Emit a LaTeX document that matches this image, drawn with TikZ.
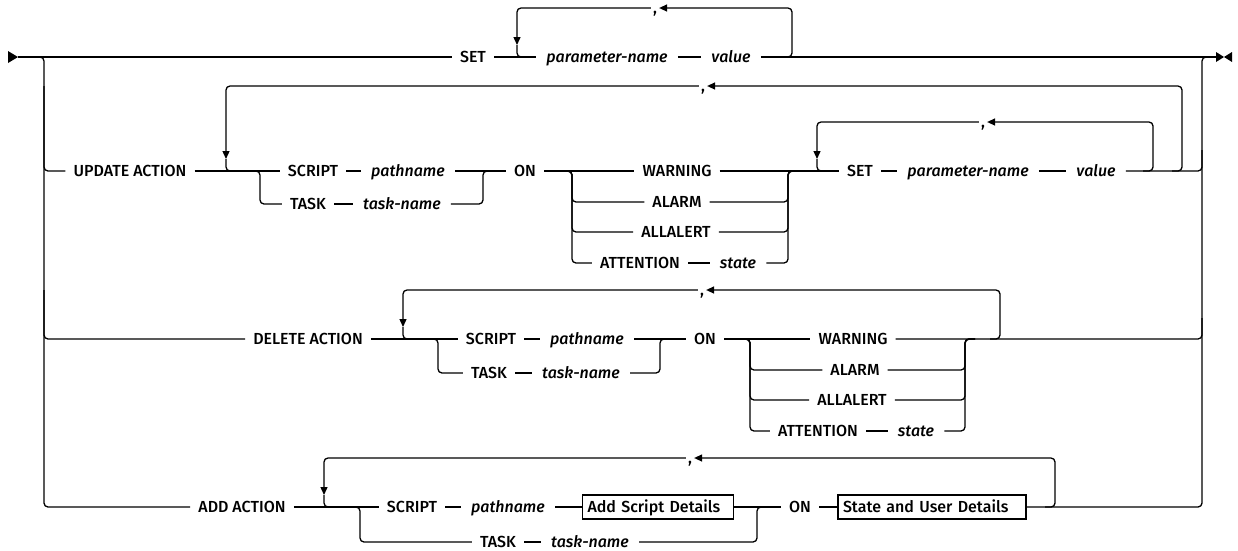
\documentclass[tikz,border=0pt]{standalone}
\usepackage{fontspec}
\usetikzlibrary{arrows.meta}
\IfFontExistsTF{Fira Sans Medium}{\newfontfamily\kwfont{Fira Sans Medium}}{\newfontfamily\kwfont{Fira Sans}}
\IfFontExistsTF{Fira Sans Medium Italic}{\newfontfamily\varfont{Fira Sans Medium Italic}}{\newfontfamily\varfont{Fira Sans}[UprightFont={* Italic}]}
\begin{document}
\begin{tikzpicture}[x=1pt,y=-1pt,
  every node/.style={font=\kwfont\fontsize{16}{18}\selectfont,text height=11pt,text depth=0pt,inner ysep=0pt},
  rail/.style={line width=1.3pt,rounded corners=4pt},
  tip/.style={-{Triangle[length=8pt,width=7pt]}},
  kw/.style={inner xsep=8pt},
  var/.style={inner xsep=10pt,font=\varfont\fontsize{16}{18}\selectfont},
  comma/.style={inner xsep=2pt,text height=0pt},
  box/.style={draw,line width=1.3pt,inner xsep=5pt,minimum height=24pt,align=left}]
  \useasboundingbox (0,0) rectangle (1238,550);
  \coordinate (begin) at (18,57);
  \coordinate (finish) at (1216,57);
  \coordinate (railL) at (44,57);
  \coordinate (railR) at (1202,57);
  \fill (8,51) -- (begin) -- (8,63) -- cycle;
  \fill (finish) ++(0,-5) -- (1224,57) -- (1216,62) -- cycle;
  \fill (1232,52) -- (1224,57) -- (1232,62) -- cycle;

  \node[kw] (set0) at (473,57) {SET};
  \node[var] (pn0) at (607,57) {parameter-name};
  \node[var] (val0) at (731,57) {value};
  \node[comma] (c0) at (655,8) {\raisebox{-5pt}{,}};
  \coordinate (l0) at (517,57);
  \coordinate (r0) at (792,57);
  \draw[rail] (begin) -- (set0.west);
  \draw[rail] (set0.east) -- (pn0.west);
  \draw[rail] (pn0.east) -- (val0.west);
  \draw[rail] (val0.east) -- (finish);
  \draw[rail,tip] ([xshift=-10pt]r0) -| (r0 |- c0) -- (c0.east);
  \draw[rail,tip] (c0.west) -| ([yshift=12pt]l0);
  \draw[rail] ([yshift=12pt]l0) |- ([xshift=10pt]l0);

  \node[kw] (upd) at (130,171) {UPDATE ACTION};
  \node[comma] (c1) at (703,86) {\raisebox{-5pt}{,}};
  \node[kw] (s1) at (313,171) {SCRIPT};
  \node[var] (p1) at (408,171) {pathname};
  \node[kw] (t1) at (308,204) {TASK};
  \node[var] (tn1) at (402,204) {task-name};
  \node[kw] (on1) at (525,171) {ON};
  \node[kw] (w1) at (677,171) {WARNING};
  \node[kw] (a1) at (677,202) {ALARM};
  \node[kw] (aa1) at (676,232) {ALLALERT};
  \node[kw] (at1) at (640,263) {ATTENTION};
  \node[var] (st1) at (738,263) {state};
  \node[comma] (c2) at (983,122) {\raisebox{-5pt}{,}};
  \node[kw] (set1) at (860,171) {SET};
  \node[var] (pn1) at (968,171) {parameter-name};
  \node[var] (val1) at (1096,171) {value};
  \coordinate (l1) at (226,171);
  \coordinate (f1) at (260,171);
  \coordinate (j1) at (483,171);
  \coordinate (f2) at (572,171);
  \coordinate (j2) at (788,171);
  \coordinate (l2) at (817,171);
  \coordinate (r2) at (1153,171);
  \coordinate (r1) at (1182,171);
  \coordinate (rr1) at (1202,150);
  \draw[rail] (railL |- c1) |- (upd.west);
  \draw[rail] (upd.east) -- (s1.west);
  \draw[rail] ([xshift=-10pt]f1) -| (f1 |- t1) -- (t1.west);
  \draw[rail] (s1.east) -- (p1.west);
  \draw[rail] (t1.east) -- (tn1.west);
  \draw[rail] (p1.east) -- (on1.west);
  \draw[rail] (tn1.east) -| (j1) -- ([xshift=10pt]j1);
  \draw[rail] (on1.east) -- (w1.west);
  \foreach \n in {a1,aa1,at1}
    \draw[rail] ([xshift=-10pt]f2) -| (f2 |- \n) -- (\n.west);
  \draw[rail] (at1.east) -- (st1.west);
  \foreach \n in {a1,aa1,st1}
    \draw[rail] (\n.east) -| (j2) -- ([xshift=10pt]j2);
  \draw[rail] (w1.east) -- (set1.west);
  \draw[rail] (set1.east) -- (pn1.west);
  \draw[rail] (pn1.east) -- (val1.west);
  \draw[rail] (val1.east) -| (rr1);
  \draw[rail,tip] ([xshift=-10pt]r2) -| (r2 |- c2) -- (c2.east);
  \draw[rail,tip] (c2.west) -| ([yshift=12pt]l2);
  \draw[rail] ([yshift=12pt]l2) |- ([xshift=10pt]l2);
  \draw[rail,tip] ([xshift=-10pt]r1) -| (r1 |- c1) -- (c1.east);
  \draw[rail,tip] (c1.west) -| ([yshift=12pt]l1);
  \draw[rail] ([yshift=12pt]l1) |- ([xshift=10pt]l1);

  \node[kw] (del) at (308,339) {DELETE ACTION};
  \node[comma] (c3) at (702,290) {\raisebox{-5pt}{,}};
  \node[kw] (s3) at (491,339) {SCRIPT};
  \node[var] (p3) at (587,339) {pathname};
  \node[kw] (t3) at (489,373) {TASK};
  \node[var] (tn3) at (581,373) {task-name};
  \node[kw] (on3) at (705,339) {ON};
  \node[kw] (w3) at (853,339) {WARNING};
  \node[kw] (a3) at (855,370) {ALARM};
  \node[kw] (aa3) at (852,400) {ALLALERT};
  \node[kw] (at3) at (818,431) {ATTENTION};
  \node[var] (st3) at (916,431) {state};
  \coordinate (l3) at (403,339);
  \coordinate (f3) at (438,339);
  \coordinate (j3) at (660,339);
  \coordinate (f4) at (750,339);
  \coordinate (j4) at (965,339);
  \coordinate (r3) at (1000,339);
  \coordinate (rr3) at (1202,318);
  \draw[rail] (railL |- c3) |- (del.west);
  \draw[rail] (del.east) -- (s3.west);
  \draw[rail] ([xshift=-10pt]f3) -| (f3 |- t3) -- (t3.west);
  \draw[rail] (s3.east) -- (p3.west);
  \draw[rail] (t3.east) -- (tn3.west);
  \draw[rail] (p3.east) -- (on3.west);
  \draw[rail] (tn3.east) -| (j3) -- ([xshift=10pt]j3);
  \draw[rail] (on3.east) -- (w3.west);
  \foreach \n in {a3,aa3,at3}
    \draw[rail] ([xshift=-10pt]f4) -| (f4 |- \n) -- (\n.west);
  \draw[rail] (at3.east) -- (st3.west);
  \foreach \n in {a3,aa3,st3}
    \draw[rail] (\n.east) -| (j4) -- ([xshift=10pt]j4);
  \draw[rail] (w3.east) -| (rr3);
  \draw[rail,tip] ([xshift=-10pt]r3) -| (r3 |- c3) -- (c3.east);
  \draw[rail,tip] (c3.west) -| ([yshift=12pt]l3);
  \draw[rail] ([yshift=12pt]l3) |- ([xshift=10pt]l3);

  \node[kw] (add) at (242,507) {ADD ACTION};
  \node[comma] (c5) at (690,458) {\raisebox{-5pt}{,}};
  \node[kw] (s5) at (412,507) {SCRIPT};
  \node[var] (p5) at (508,507) {pathname};
  \node[box,text width=141pt] (b1) at (658,507) {Add Script Details};
  \node[kw] (t5) at (498,542) {TASK};
  \node[var] (tn5) at (590,542) {task-name};
  \node[kw] (on5) at (800,507) {ON};
  \node[box,text width=178pt] (b2) at (932,507) {State and User Details};
  \coordinate (l5) at (324,507);
  \coordinate (f5) at (360,507);
  \coordinate (j5) at (757,507);
  \coordinate (r5) at (1055,507);
  \draw[rail] (add.east) -- (s5.west);
  \draw[rail] ([xshift=-10pt]f5) -| (f5 |- t5) -- (t5.west);
  \draw[rail] (s5.east) -- (p5.west);
  \draw[rail] (p5.east) -- (b1.west);
  \draw[rail] (t5.east) -- (tn5.west);
  \draw[rail] (tn5.east) -| (j5) -- ([xshift=10pt]j5);
  \draw[rail] (b1.east) -- (on5.west);
  \draw[rail] (on5.east) -- (b2.west);
  \draw[rail,tip] ([xshift=-10pt]r5) -| (r5 |- c5) -- (c5.east);
  \draw[rail,tip] (c5.west) -| ([yshift=12pt]l5);
  \draw[rail] ([yshift=12pt]l5) |- ([xshift=10pt]l5);

  \draw[rail] ([xshift=-8pt]railL) -| (railL |- add) -- (add.west);
  \draw[rail] (b2.east) -| (railR) -- (finish);
\end{tikzpicture}
\end{document}
